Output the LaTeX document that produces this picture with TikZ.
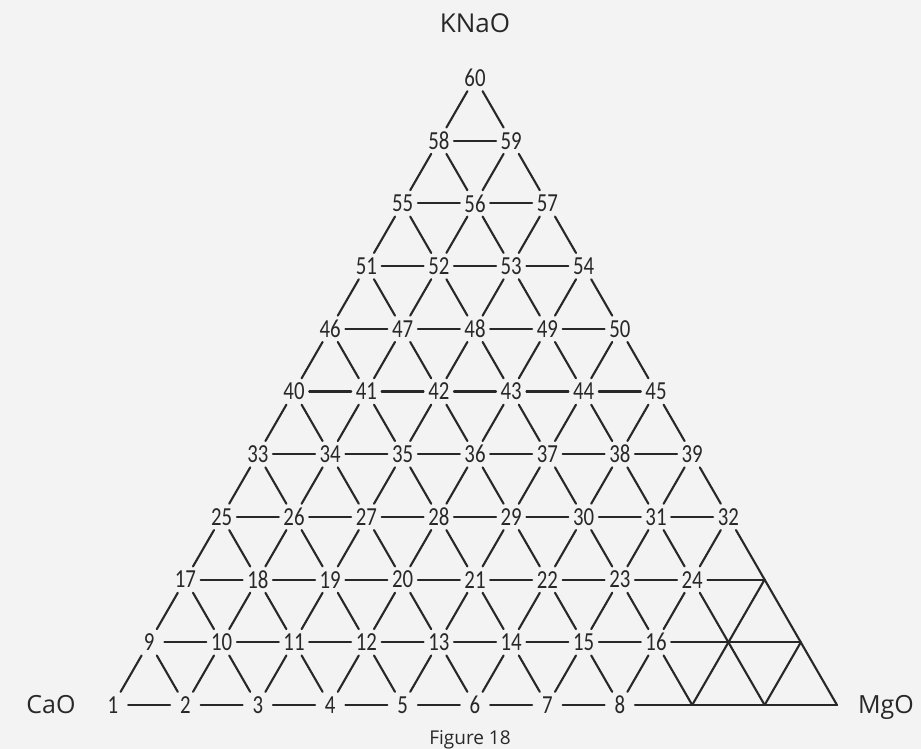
\documentclass[tikz,border=0pt]{standalone}
\usepackage{fontspec}
\setmainfont{Open Sans}
\newfontfamily\numfont[FakeStretch=0.8]{Carlito}
\usepackage{xcolor}
\definecolor{inkGray}{RGB}{40,40,40}
\definecolor{paperGray}{RGB}{243,243,243}

\begin{document}
\begin{tikzpicture}[
  x=1pt, y=-1pt,
  vertex/.style={circle, inner sep=0pt, minimum size=30pt,
                 font=\numfont\fontsize{26}{26}\selectfont,
                 text=inkGray},
  edge/.style={line width=2.1pt, draw=inkGray, line cap=round},
  corner/.style={font=\fontsize{25}{28}\selectfont,
                 text=inkGray, anchor=base}
]
  \fill[paperGray] (0,0) rectangle (921,749);
  \useasboundingbox (0,0) rectangle (921,749);
  % grid points, row by row upwards from the CaO--MgO side
  \foreach \r/\s in {0/1,1/9,2/17,3/25,4/33,5/40,6/46,7/51,8/55,9/58,10/60}{
    \pgfmathtruncatemacro{\m}{10-\r}
    \pgfmathtruncatemacro{\k}{min(8,11-\r)}
    \foreach \i in {0,...,\m}{
      \pgfmathtruncatemacro{\lab}{\s+\i}
      \ifnum\i<\k
        \node[vertex] (v-\r-\i) at ({113+72.4*\i+36.2*\r},{705-62.7*\r}) {\lab};
      \else
        \coordinate (v-\r-\i) at ({113+72.4*\i+36.2*\r},{705-62.7*\r});
      \fi
    }
  }
  % sides of the small triangles
  \foreach \r in {0,...,9}{
    \pgfmathtruncatemacro{\m}{9-\r}
    \pgfmathtruncatemacro{\u}{\r+1}
    \foreach \i in {0,...,\m}{
      \pgfmathtruncatemacro{\j}{\i+1}
      \draw[edge] (v-\r-\i) -- (v-\r-\j);
      \draw[edge] (v-\r-\i) -- (v-\u-\i);
      \draw[edge] (v-\r-\j) -- (v-\u-\i);
    }
  }
  % oxides at the corners
  \node[corner, font=\fontsize{26}{28}\selectfont] (knao) at (475,33) {KNaO};
  \node[corner] (cao) at (51,713) {CaO};
  \node[corner] (mgo) at (886,713) {MgO};
  \node[corner, font=\fontsize{19}{22}\selectfont] (fig) at (470,744) {Figure 18};
\end{tikzpicture}
\end{document}
